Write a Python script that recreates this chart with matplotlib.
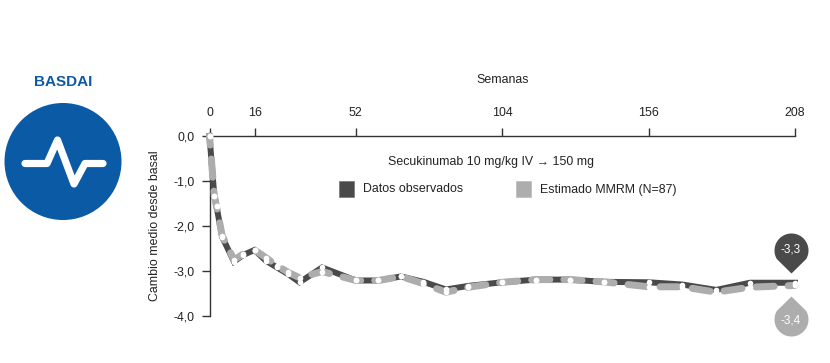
import numpy as np
import matplotlib
matplotlib.use('Agg')
import matplotlib.pyplot as plt
from matplotlib.path import Path
from matplotlib.patches import Circle, Rectangle
from matplotlib.transforms import ScaledTranslation

plt.rcParams['font.family'] = ['Liberation Sans', 'DejaVu Sans']

weeks = [0, 1.7, 2.5, 4.5, 8.7, 12, 16, 20, 24, 28, 32, 40, 52, 60, 68, 76, 84,
         92, 104, 116, 128, 140, 156, 168, 180, 192, 208]
observed = [0, -1.33, -1.57, -2.25, -2.8, -2.65, -2.54, -2.78, -2.93, -3.08, -3.26,
            -2.93, -3.22, -3.22, -3.13, -3.25, -3.42, -3.34, -3.26, -3.2, -3.2, -3.25,
            -3.26, -3.31, -3.43, -3.27, -3.27]
estimated = [0, -1.33, -1.57, -2.22, -2.76, -2.63, -2.54, -2.71, -2.89, -3.04, -3.16,
             -3.02, -3.22, -3.22, -3.13, -3.29, -3.48, -3.37, -3.26, -3.2, -3.2, -3.25,
             -3.36, -3.36, -3.48, -3.37, -3.33]
week_ticks = [0, 16, 52, 104, 156, 208]
y_ticks = [0, -1, -2, -3, -4]
y_labels = ['0,0', '-1,0', '-2,0', '-3,0', '-4,0']
end_obs_label = '-3,3'
end_est_label = '-3,4'

W, H = 830, 363
DARK = '#4a4a4a'
GREY = '#adadad'
BLUE = '#0b5aa5'
AXC = '#333333'
px = 72 / 100  # one pixel in points

fig = plt.figure(figsize=(W / 100, H / 100), dpi=100)

# overlay in pixel coords for icon, legend and headings
bg = fig.add_axes([0, 0, 1, 1])
bg.set_xlim(0, W)
bg.set_ylim(H, 0)
bg.axis('off')

bg.add_patch(Circle((63, 161.5), 58.5, color=BLUE, lw=0))
pulse_x = [25, 47, 57.5, 74, 85, 103]
pulse_y = [163.5, 163.5, 140, 184, 163.5, 163.5]
bg.plot(pulse_x, pulse_y, color='white', lw=7.2 * px, solid_capstyle='round',
        solid_joinstyle='round')
bg.text(63.5, 81.5, 'BASDAI', color=BLUE, fontsize=11, fontweight='bold',
        ha='center', va='center')

bg.text(503, 80, 'Semanas', color='#222222', fontsize=8.9, ha='center', va='center')
bg.text(155, 226, 'Cambio medio desde basal', color='#222222', fontsize=8.9,
        rotation=90, ha='center', va='center')
bg.text(388, 162.5, 'Secukinumab 10 mg/kg IV \u2192 150 mg', color='#222222',
        fontsize=8.9, ha='left', va='center')
bg.add_patch(Rectangle((338.5, 181), 15.5, 15.5, facecolor=DARK, edgecolor='#777777', lw=0.5))
bg.add_patch(Rectangle((515.5, 181), 15.5, 15.5, facecolor=GREY, edgecolor='#bbbbbb', lw=0.5))
bg.text(363, 189.5, 'Datos observados', color='#222222', fontsize=8.9, ha='left', va='center')
bg.text(540, 189.5, 'Estimado MMRM (N=87)', color='#222222', fontsize=8.9, ha='left', va='center')

ax = fig.add_axes([209.5 / W, 1 - 315.5 / H, (795 - 209.5) / W, (315.5 - 136) / H])
ax.patch.set_alpha(0)
ax.set_xlim(0, 208)
ax.set_ylim(-4, 0)
ax.xaxis.tick_top()
ax.set_xticks(week_ticks)
ax.set_xticklabels([str(w) for w in week_ticks])
ax.set_yticks(y_ticks)
ax.set_yticklabels(y_labels)
ax.tick_params(axis='both', length=8 * px, width=1, color=AXC, labelsize=8.9,
               labelcolor='#222222', pad=5)
ax.tick_params(axis='x', pad=6.5)
for s in ['right', 'bottom']:
    ax.spines[s].set_visible(False)
for s in ['top', 'left']:
    ax.spines[s].set_color(AXC)
    ax.spines[s].set_linewidth(1)

ax.plot(weeks, observed, color=DARK, lw=6 * px, solid_joinstyle='miter', clip_on=False, zorder=3)
ax.plot(weeks, estimated, color=GREY, lw=7 * px, linestyle=(1.3, (2.6, 2.0)),
        dash_capstyle='round', dash_joinstyle='round', clip_on=False, zorder=4)
ax.plot(weeks, observed, 'o', color='white', ms=5.6 * px, mew=0, clip_on=False, zorder=5)
ax.plot(weeks, estimated, 'o', color='white', ms=5.6 * px, mew=0, clip_on=False, zorder=5)

# end value pins, tip at the origin of the marker
n = 40
theta = np.linspace(-np.pi / 6, 7 * np.pi / 6, n)
r = 17
verts = [(0, 0)] + [(r * np.cos(t), 23 + r * np.sin(t)) for t in theta] + [(0, 0)]
codes = [Path.MOVETO] + [Path.LINETO] * (len(verts) - 2) + [Path.CLOSEPOLY]
pin_up = Path(verts, codes)
pin_down = Path([(x, -y) for x, y in verts], codes)
size = 80 * px

off_up = ScaledTranslation(-4 * px / 72, 10 * px / 72, fig.dpi_scale_trans)
off_down = ScaledTranslation(-4 * px / 72, -11 * px / 72, fig.dpi_scale_trans)
ax.plot(weeks[-1], observed[-1], marker=pin_up, ms=size, color=DARK, mew=0,
        transform=ax.transData + off_up, clip_on=False, zorder=6)
ax.plot(weeks[-1], estimated[-1], marker=pin_down, ms=size, color=GREY, mew=0,
        transform=ax.transData + off_down, clip_on=False, zorder=6)
ax.annotate(end_obs_label, (weeks[-1], observed[-1]), xytext=(-4 * px, 33 * px),
            textcoords='offset points', color='white', fontsize=8.5, ha='center',
            va='center', zorder=7, annotation_clip=False)
ax.annotate(end_est_label, (weeks[-1], estimated[-1]), xytext=(-4 * px, -35 * px),
            textcoords='offset points', color='white', fontsize=8.5, ha='center',
            va='center', zorder=7, annotation_clip=False)

fig.savefig('out.png', dpi=100)
